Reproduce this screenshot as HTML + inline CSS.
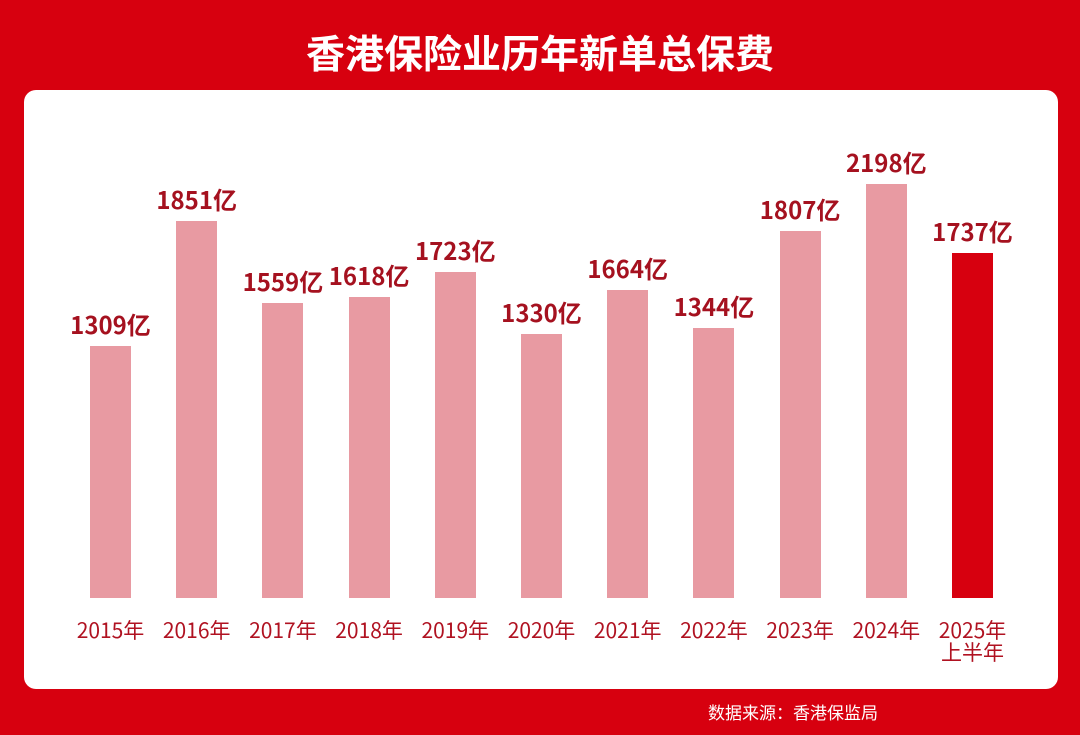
<!DOCTYPE html>
<html><head><meta charset="utf-8"><style>
body{margin:0;width:1080px;height:735px;background:#d7000f;position:relative;overflow:hidden;font-family:"Liberation Sans","Noto Sans CJK SC",sans-serif}
.t{position:absolute;top:24px;left:0;width:1080px;text-align:center;color:#fff;font-size:39px;font-weight:bold;font-family:"Noto Sans CJK SC",sans-serif;line-height:56px}
.p{position:absolute;left:24px;top:90px;width:1034px;height:599px;background:#fff;border-radius:12px}
.b{position:absolute;width:41px;background:#e89aa2}
.v{position:absolute;width:140px;text-align:center;color:#a5111f;font-size:24px;font-weight:bold;font-family:"Noto Sans CJK SC",sans-serif;line-height:28px}
.x{position:absolute;width:110px;text-align:center;color:#b01221;font-size:21px;font-family:"Noto Sans CJK SC",sans-serif;line-height:22px;top:619px}
.s{position:absolute;left:708px;top:699px;color:#fff;font-size:17px;font-family:"Noto Sans CJK SC",sans-serif}
</style></head><body>
<div class="t">香港保险业历年新单总保费</div>
<div class="p"></div>
<div id="c"></div>
<div class="s">数据来源：香港保监局</div>
<script>
var d=[["2015",1309,346],["2016",1851,221],["2017",1559,303],["2018",1618,297],["2019",1723,272],["2020",1330,334],["2021",1664,290],["2022",1344,328],["2023",1807,231],["2024",2198,184],["2025",1737,253]];
var h="";
d.forEach(function(e,i){var x=90+i*86.2;var c=x+20.5;
h+='<div class="b" style="left:'+x+'px;top:'+e[2]+'px;height:'+(598-e[2])+'px;'+(i==10?'background:#d7000f':'')+'"></div>';
h+='<div class="v" style="left:'+(c-70)+'px;top:'+(e[2]-36)+'px">'+e[1]+'亿</div>';
h+='<div class="x" style="left:'+(c-55)+'px">'+e[0]+'年'+(i==10?'<br>上半年':'')+'</div>';});
document.getElementById("c").innerHTML=h;
</script>
</body></html>
